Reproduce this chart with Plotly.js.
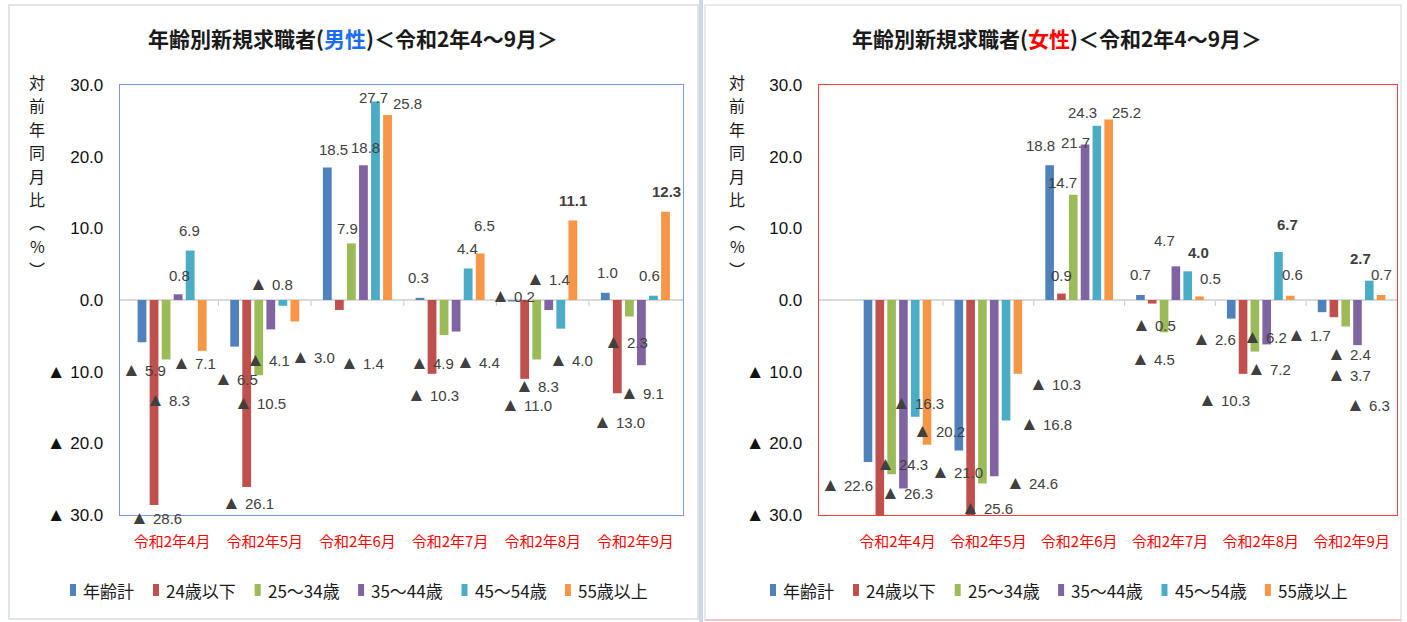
<!DOCTYPE html>
<html>
<head>
<meta charset="utf-8">
<script src="https://cdn.plot.ly/plotly-3.0.1.min.js"></script>
<style>
  html, body { margin: 0; padding: 0; background: #ffffff; }
  #chart { width: 1407px; height: 622px; }
</style>
</head>
<body>
<div id="chart"></div>
<script>
// 年齢別新規求職者 対前年同月比(%) 令和2年4～9月

const months = ['令和2年4月', '令和2年5月', '令和2年6月', '令和2年7月', '令和2年8月', '令和2年9月'];
const seriesNames = ['年齢計', '24歳以下', '25～34歳', '35～44歳', '45～54歳', '55歳以上'];

// 男性
const maleTotal   = [-5.9, -6.5, 18.5, 0.3, -0.2, 1.0];
const maleUnder24 = [-28.6, -26.1, -1.4, -10.3, -11.0, -13.0];
const male25to34  = [-8.3, -10.5, 7.9, -4.9, -8.3, -2.3];
const male35to44  = [0.8, -4.1, 18.8, -4.4, -1.4, -9.1];
const male45to54  = [6.9, -0.8, 27.7, 4.4, -4.0, 0.6];
const male55plus  = [-7.1, -3.0, 25.8, 6.5, 11.1, 12.3];

// 女性 (24歳以下の4月・5月は目盛の下限▲30.0を超える)
const femaleTotal   = [-22.6, -21.0, 18.8, 0.7, -2.6, -1.7];
const femaleUnder24 = [-31.0, -31.0, 0.9, -0.5, -10.3, -2.4];
const female25to34  = [-24.3, -25.6, 14.7, -4.5, -7.2, -3.7];
const female35to44  = [-26.3, -24.6, 21.7, 4.7, -6.2, -6.3];
const female45to54  = [-16.3, -16.8, 24.3, 4.0, 6.7, 2.7];
const female55plus  = [-20.2, -10.3, 25.2, 0.5, 0.6, 0.7];

const yTickValues = [-30, -20, -10, 0, 10, 20, 30];
const yTitleChars = ['対', '前', '年', '同', '月', '比', '︵', '%', '︶'];

// ---- styling ----
const W = 1407, H = 622;
const seriesColors = ['#4F81BD', '#C0504D', '#9BBB59', '#8064A2', '#4BACC6', '#F79646'];
const NUM_FONT = '"Liberation Sans", Arial, "Noto Sans CJK JP", sans-serif';
const JP_FONT = '"Noto Sans CJK JP", "Liberation Sans", sans-serif';
const BARGAP = 0.22, BARGROUPGAP = 0.27;
const TRI = '<span style="font-size:19px">▲</span>';

// data-label nudges in px (row = series, column = month), label is anchored on the bar end
const maleLabelDx = [
  [2, 1, 6, -1, 0, 2],
  [2, 1, 23, 1, 2, 2],
  [2, 1, -4, -12, 0, -3],
  [1, -3, 2, 22, -1, 1],
  [-1, -12, -2, -1, 10, -4],
  [-8, 18, 20, 4, 0, 1]
];
const maleLabelDy = [
  [-27, -32, 18, 20, 6, 20],
  [-13, -15, -52, -21, -26, -28],
  [-40, -27, 15, -27, -26, -25],
  [19, -30, 18, -30, 32, -27],
  [20, 22, 4, 20, -31, 20],
  [-12, -35, 12, 28, 20, 20]
];
const femaleLabelDx = [
  [-21, -2, -9, 0, -17, -13],
  [0, 0, 0, 2, -19, 15],
  [10, 5, -11, -11, 14, 3],
  [4, 38, -10, -11, -2, 10],
  [3, 40, -14, 11, 9, -9],
  [12, 37, 18, 11, 2, 0]
];
const femaleLabelDy = [
  [-23, -21, 20, 20, -20, -22],
  [0, 0, 18, -21, -26, -36],
  [11, -24, 12, -26, -17, -48],
  [-4, -6, 2, 26, 8, -59],
  [14, -3, 13, 19, 27, 22],
  [14, -10, 7, 18, 21, 20]
];
// labels shown in bold: [series, month]
const maleBold = [[5, 4], [5, 5]];
const femaleBold = [[4, 3], [4, 4], [4, 5]];

const maleSeries = [maleTotal, maleUnder24, male25to34, male35to44, male45to54, male55plus];
const femaleSeries = [femaleTotal, femaleUnder24, female25to34, female35to44, female45to54, female55plus];

const px = v => v / W;
const py = v => 1 - v / H;

function makeTraces(series, xa, ya) {
  return series.map((vals, i) => ({
    type: 'bar',
    name: seriesNames[i],
    x: months,
    y: vals,
    xaxis: xa,
    yaxis: ya,
    showlegend: false,
    marker: { color: seriesColors[i], line: { width: 0 } },
    hoverinfo: 'none'
  }));
}

function fmtValue(v) {
  return v < 0 ? TRI + ' ' + Math.abs(v).toFixed(1) : v.toFixed(1);
}

function makeLabels(series, dx, dy, boldList, xa, ya) {
  const out = [];
  const n = series.length;
  const slot = (1 - BARGAP) / n;
  series.forEach((vals, i) => {
    const offset = -(1 - BARGAP) / 2 + (i + 0.5) * slot;
    vals.forEach((v, k) => {
      if (v < yTickValues[0] || v > yTickValues[yTickValues.length - 1]) return;
      const bold = boldList.some(b => b[0] === i && b[1] === k);
      const t = fmtValue(v);
      out.push({
        xref: xa, yref: ya,
        x: k + offset, y: v,
        xshift: dx[i][k], yshift: dy[i][k],
        xanchor: 'center', yanchor: 'middle',
        text: bold ? '<b>' + t + '</b>' : t,
        showarrow: false,
        font: { family: NUM_FONT, size: 15, color: '#404040' }
      });
    });
  });
  return out;
}

// short category separators hanging below the zero line
function categoryTicks(xa, ya) {
  const out = [];
  for (let k = 0; k < months.length - 1; k++) {
    out.push({
      type: 'line', xref: xa, yref: ya, layer: 'below',
      x0: k + 0.5, x1: k + 0.5,
      ysizemode: 'pixel', yanchor: 0, y0: 0, y1: -6,
      line: { color: '#d0d0d0', width: 1.2 }
    });
  }
  return out;
}

function xAxisDef(domain, anchor, lineColor) {
  return {
    domain: domain, anchor: anchor,
    type: 'category',
    categoryorder: 'array', categoryarray: months,
    showgrid: false, zeroline: false,
    showline: true, mirror: true, linecolor: lineColor, linewidth: 1.3,
    ticks: '', ticklabelstandoff: 13,
    tickfont: { family: JP_FONT, size: 15, color: '#ff0000' },
    fixedrange: true
  };
}

function yAxisDef(domain, anchor, lineColor) {
  return {
    domain: domain, anchor: anchor,
    range: [yTickValues[0], yTickValues[yTickValues.length - 1]],
    tickmode: 'array', tickvals: yTickValues,
    ticktext: yTickValues.map(v => (v < 0 ? TRI + ' ' : '') + Math.abs(v).toFixed(1)),
    showgrid: false,
    zeroline: true, zerolinecolor: '#d9d9d9', zerolinewidth: 1.5,
    showline: true, mirror: true, linecolor: lineColor, linewidth: 1.3,
    ticks: '', ticklabelstandoff: 12,
    tickfont: { family: NUM_FONT, size: 17, color: '#111111' },
    fixedrange: true
  };
}

// legend drawn as small colour swatches with text beside them
function approxTextWidth(s, size) {
  let w = 0;
  for (const ch of s) w += /[\x00-\x7f]/.test(ch) ? 0.55 : 1.0;
  return w * size;
}

function makeLegend(startX, yCenter) {
  const size = 17;
  const anns = [], shps = [];
  let x = startX;
  seriesNames.forEach((name, i) => {
    shps.push({
      type: 'rect', xref: 'paper', yref: 'paper',
      x0: px(x), x1: px(x + 6), y0: py(yCenter + 6), y1: py(yCenter - 6),
      line: { width: 0 }, fillcolor: seriesColors[i]
    });
    anns.push({
      xref: 'paper', yref: 'paper',
      x: px(x + 11), y: py(yCenter), xanchor: 'left', yanchor: 'middle',
      text: name, showarrow: false,
      font: { family: JP_FONT, size: size, color: '#1a1a1a' }
    });
    x += 11 + approxTextWidth(name, size) + 21;
  });
  return { anns, shps };
}

// vertical axis caption, one character per line
function verticalTitle(xc) {
  const pitch = 23.4;
  return yTitleChars.map((ch, j) => ({
    xref: 'paper', yref: 'paper',
    x: px(xc), y: py(82 + j * pitch), xanchor: 'center', yanchor: 'middle',
    text: ch, showarrow: false,
    font: { family: JP_FONT, size: 16, color: '#1a1a1a' }
  }));
}

function chartTitle(xc, genderText, genderColor) {
  return {
    xref: 'paper', yref: 'paper',
    x: px(xc), y: py(38), xanchor: 'center', yanchor: 'middle',
    text: '<b>年齢別新規求職者(<span style="color:' + genderColor + '">' + genderText +
          '</span>)＜令和2年4～9月＞</b>',
    showarrow: false,
    font: { family: JP_FONT, size: 21, color: '#1a1a1a' }
  };
}

const plotTop = 85, plotBottom = 515;
const yDomain = [py(plotBottom), py(plotTop)];

const traces = makeTraces(maleSeries, 'x', 'y')
  .concat(makeTraces(femaleSeries, 'x2', 'y2'));

const legendLeft = makeLegend(70, 590);
const legendRight = makeLegend(770, 590);

const annotations = [
  chartTitle(353, '男性', '#1a6cf0'),
  chartTitle(1057, '女性', '#ff0000')
].concat(
  verticalTitle(37),
  verticalTitle(737),
  makeLabels(maleSeries, maleLabelDx, maleLabelDy, maleBold, 'x', 'y'),
  makeLabels(femaleSeries, femaleLabelDx, femaleLabelDy, femaleBold, 'x2', 'y2'),
  legendLeft.anns, legendRight.anns
);

const shapes = [
  // panel frames
  { type: 'rect', xref: 'paper', yref: 'paper', layer: 'below',
    x0: px(9), x1: px(698), y0: py(619), y1: py(5),
    line: { color: '#d6dbe2', width: 1.5 }, fillcolor: 'rgba(0,0,0,0)' },
  { type: 'rect', xref: 'paper', yref: 'paper', layer: 'below',
    x0: px(705), x1: px(1401), y0: py(620), y1: py(5),
    line: { color: '#e2e2e2', width: 1.5 }, fillcolor: 'rgba(0,0,0,0)' },
  { type: 'line', xref: 'paper', yref: 'paper', layer: 'below',
    x0: px(705), x1: px(1401), y0: py(620), y1: py(620),
    line: { color: '#f2c4c4', width: 2 } },
  // divider between the two panels
  { type: 'rect', xref: 'paper', yref: 'paper', layer: 'below',
    x0: px(699), x1: px(703), y0: 0, y1: 1,
    line: { width: 0 }, fillcolor: '#c9d8ec' }
].concat(
  categoryTicks('x', 'y'), categoryTicks('x2', 'y2'),
  legendLeft.shps, legendRight.shps
);

const layout = {
  width: W, height: H,
  margin: { l: 0, r: 0, t: 0, b: 0, pad: 0 },
  paper_bgcolor: '#ffffff', plot_bgcolor: '#ffffff',
  barmode: 'group', bargap: BARGAP, bargroupgap: BARGROUPGAP,
  font: { family: JP_FONT, color: '#1a1a1a' },
  showlegend: false,
  xaxis: xAxisDef([px(120), px(683)], 'y', '#7b9bd2'),
  yaxis: yAxisDef(yDomain, 'x', '#7b9bd2'),
  xaxis2: xAxisDef([px(819), px(1397)], 'y2', '#ff3b3b'),
  yaxis2: yAxisDef(yDomain, 'x2', '#ff3b3b'),
  annotations: annotations,
  shapes: shapes
};

Plotly.newPlot('chart', traces, layout, { staticPlot: true, displayModeBar: false });
</script>
</body>
</html>
